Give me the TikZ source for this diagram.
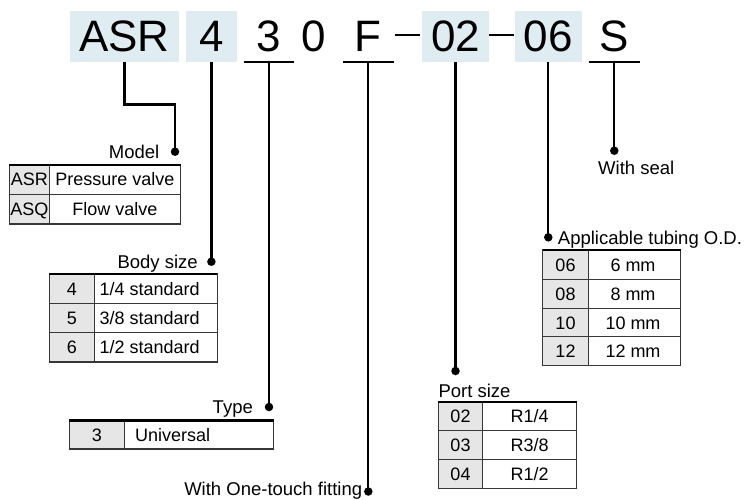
\documentclass[tikz,border=0pt]{standalone}
\usepackage{fontspec}
\setmainfont{Liberation Sans}
\usetikzlibrary{positioning,calc}
\definecolor{codebg}{RGB}{223,236,242}
\definecolor{cellgray}{RGB}{230,230,230}
\definecolor{rulegray}{RGB}{55,55,55}

\begin{document}
\begin{tikzpicture}[x=1pt, y=-1pt, node distance=0,
    code/.style={inner sep=0pt, minimum height=51pt,
      font=\fontsize{44}{48}\selectfont},
    codebox/.style={code, fill=codebg},
    lead/.style={line width=2.2pt},
    pin/.style={circle, fill=black, inner sep=0pt, minimum size=8.5pt},
    hdr/.style={inner sep=0pt, text height=13.5pt, text depth=0pt,
      font=\fontsize{18.5}{21}\selectfont},
    cell/.style={inner sep=0pt, text height=13pt, text depth=0pt,
      font=\fontsize{18}{21}\selectfont},
    tblframe/.style={draw=rulegray, line width=1.2pt},
    rowline/.style={draw=rulegray, line width=0.9pt},
    topline/.style={line width=2.2pt}]
    \useasboundingbox (0,0) rectangle (752,499);

    % order code
    \node[codebox, minimum width=109pt] (asr) at (124.5,36.5) {ASR};
    \node[codebox, minimum width=51pt] (size) at (211.4,36.5) {4};
    \node[code, minimum width=50pt] (type) at (269,36.5) {3};
    \node[code] (zero) at (314,36.5) {0};
    \node[code, minimum width=50pt] (fit) at (368.3,36.5) {F};
    \node[codebox, minimum width=66.5pt] (port) at (455.5,36.5) {02};
    \node[codebox, minimum width=66.5pt] (tube) at (548.3,36.5) {06};
    \node[code, minimum width=50pt] (seal) at (614.3,36.5) {S};

    \draw[line width=1.7pt] (type.south west) -- (type.south east);
    \draw[line width=1.7pt] (fit.south west) -- (fit.south east);
    \draw[line width=1.7pt] (seal.south west) -- (seal.south east);
    \draw[line width=2.8pt] ([xshift=1.7pt,yshift=1.5pt]fit.east)
      -- ([xshift=-1.6pt,yshift=1.5pt]port.west);
    \draw[line width=2.8pt] ([xshift=0.5pt,yshift=1.5pt]port.east)
      -- ([xshift=-1pt,yshift=1.5pt]tube.west);

    % pins
    \node[pin] (mdl) at (175,151.7) {};
    \node[pin] (bsz) at (size.south |- 0,261.7) {};
    \node[pin] (typ) at (type.south |- 0,407) {};
    \node[pin] (ftg) at (fit.south |- 0,491.5) {};
    \node[pin] (prt) at (port.south |- 0,371) {};
    \node[pin] (tub) at (tube.south |- 0,237.3) {};
    \node[pin] (sel) at (seal.south |- 0,150.7) {};

    \draw[lead] (asr.south) -- ++(0,42.3) -| (mdl.center);
    \draw[lead] (size.south) -- (bsz.center);
    \draw[lead] (type.south) -- (typ.center);
    \draw[lead] (fit.south) -- (ftg.center);
    \draw[lead] (port.south) -- (prt.center);
    \draw[lead] (tube.south) -- (tub.center);
    \draw[lead] (seal.south) -- (sel.center);

    \node[hdr, left=11pt of mdl] (mdllbl) {Model};
    \node[hdr, left=9pt of bsz] (bszlbl) {Body size};
    \node[hdr, left=11.5pt of typ] (typlbl) {Type};
    \node[hdr, left=1.5pt of ftg, yshift=3pt] (ftglbl) {With One-touch fitting};
    \node[hdr, right=5pt of tub] (tublbl) {Applicable tubing O.D.};
    \node[hdr, anchor=south west] (prtlbl) at (438.3,397.3) {Port size};
    \node[hdr, anchor=south west] (sellbl) at (598,174.3) {With seal};

    % model table
    \fill[cellgray] (9.3,164.7) rectangle (49.3,224);
    \draw[tblframe] (9.3,164.7) rectangle (180.7,224);
    \draw[rowline] (9.3,194) -- (180.7,194);
    \draw[rowline] (49.3,164.7) -- (49.3,224);
    \draw[topline] (9.3,164.7) -- (180.7,164.7);
    \node[cell] (mdl1) at (29.3,179.3) {ASR};
    \node[cell] (mdl1t) at (115,179.3) {Pressure valve};
    \node[cell] (mdl2) at (29.3,209) {ASQ};
    \node[cell] (mdl2t) at (115,209) {Flow valve};

    % body size table
    \fill[cellgray] (49.3,274) rectangle (94.7,362);
    \draw[tblframe] (49.3,274) rectangle (217.3,362);
    \draw[rowline] (49.3,303) -- (217.3,303);
    \draw[rowline] (49.3,332) -- (217.3,332);
    \draw[rowline] (94.7,274) -- (94.7,362);
    \draw[topline] (49.3,274) -- (217.3,274);
    \node[cell] (bsz1) at (72,288.5) {4};
    \node[cell, anchor=west] (bsz1t) at (99.3,288.5) {1/4 standard};
    \node[cell] (bsz2) at (72,317.5) {5};
    \node[cell, anchor=west] (bsz2t) at (99.3,317.5) {3/8 standard};
    \node[cell] (bsz3) at (72,347) {6};
    \node[cell, anchor=west] (bsz3t) at (99.3,347) {1/2 standard};

    % type table
    \fill[cellgray] (69.3,420.5) rectangle (124.5,449);
    \draw[tblframe] (69.3,420.5) rectangle (273.5,449);
    \draw[rowline] (124.5,420.5) -- (124.5,449);
    \draw[topline] (69.3,420.5) -- (273.5,420.5);
    \node[cell] (typ1) at (96.9,434.8) {3};
    \node[cell, anchor=west] (typ1t) at (135,434.8) {Universal};

    % port size table
    \fill[cellgray] (438.3,401.7) rectangle (482.7,488.3);
    \draw[tblframe] (438.3,401.7) rectangle (576.7,488.3);
    \draw[rowline] (438.3,430) -- (576.7,430);
    \draw[rowline] (438.3,459) -- (576.7,459);
    \draw[rowline] (482.7,401.7) -- (482.7,488.3);
    \draw[topline] (438.3,401.7) -- (576.7,401.7);
    \node[cell] (prt1) at (460.5,415.9) {02};
    \node[cell] (prt1t) at (529.7,415.9) {R1/4};
    \node[cell] (prt2) at (460.5,444.5) {03};
    \node[cell] (prt2t) at (529.7,444.5) {R3/8};
    \node[cell] (prt3) at (460.5,473.7) {04};
    \node[cell] (prt3t) at (529.7,473.7) {R1/2};

    % tubing table
    \fill[cellgray] (542.7,250) rectangle (588.3,365.3);
    \draw[tblframe] (542.7,250) rectangle (680.7,365.3);
    \draw[rowline] (542.7,279.3) -- (680.7,279.3);
    \draw[rowline] (542.7,308.3) -- (680.7,308.3);
    \draw[rowline] (542.7,336.7) -- (680.7,336.7);
    \draw[rowline] (588.3,250) -- (588.3,365.3);
    \draw[topline] (542.7,250) -- (680.7,250);
    \node[cell] (tub1) at (565.5,264.7) {06};
    \node[cell] (tub1t) at (633,264.7) {6 mm};
    \node[cell] (tub2) at (565.5,293.8) {08};
    \node[cell] (tub2t) at (633,293.8) {8 mm};
    \node[cell] (tub3) at (565.5,322.5) {10};
    \node[cell] (tub3t) at (633,322.5) {10 mm};
    \node[cell] (tub4) at (565.5,351) {12};
    \node[cell] (tub4t) at (633,351) {12 mm};
  \end{tikzpicture}
\end{document}
